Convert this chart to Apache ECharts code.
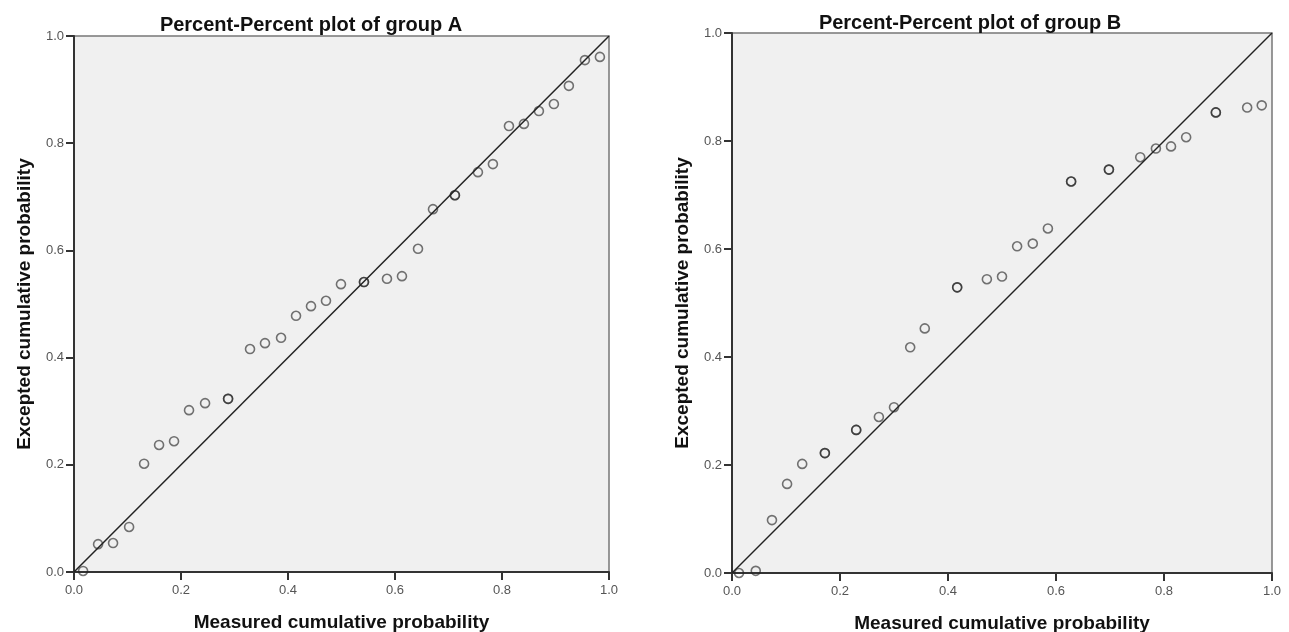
<!DOCTYPE html>
<html>
<head>
<meta charset="utf-8">
<script src="https://cdn.jsdelivr.net/npm/echarts@6/dist/echarts.min.js"></script>
<style>
html,body{margin:0;padding:0;background:#fff;}
#chart{width:1289px;height:632px;}
</style>
</head>
<body>
<div id="chart"></div>
<script>
// Group A: measured (x) vs expected (y) cumulative probability; tied points repeated
const measuredA = [0.017,0.045,0.073,0.103,0.131,0.159,0.187,0.215,0.245,0.288,0.288,0.329,0.357,0.387,0.415,0.443,0.471,0.499,0.542,0.542,0.585,0.613,0.643,0.671,0.712,0.712,0.755,0.783,0.813,0.841,0.869,0.897,0.925,0.955,0.983];
const expectedA = [0.002,0.052,0.054,0.084,0.202,0.237,0.244,0.302,0.315,0.323,0.323,0.416,0.427,0.437,0.478,0.496,0.506,0.537,0.541,0.541,0.547,0.552,0.603,0.677,0.703,0.703,0.746,0.761,0.832,0.836,0.860,0.873,0.907,0.955,0.961];
// Group B
const measuredB = [0.013,0.044,0.074,0.102,0.130,0.172,0.172,0.230,0.230,0.272,0.300,0.330,0.357,0.417,0.417,0.472,0.500,0.528,0.557,0.585,0.628,0.628,0.698,0.698,0.756,0.785,0.813,0.841,0.896,0.896,0.954,0.981];
const expectedB = [0.000,0.004,0.098,0.165,0.202,0.222,0.222,0.265,0.265,0.289,0.307,0.418,0.453,0.529,0.529,0.544,0.549,0.605,0.610,0.638,0.725,0.725,0.747,0.747,0.770,0.786,0.790,0.807,0.853,0.853,0.862,0.866];
const refLine = [[0,0],[1,1]];
const titles = ['Percent-Percent plot of group A','Percent-Percent plot of group B'];
const xName = 'Measured cumulative probability';
const yName = 'Excepted cumulative probability';

const FONT = '"Liberation Sans", Arial, sans-serif';
const zip = (a,b) => a.map((v,i)=>[v,b[i]]);

function axis(type, gi) {
  return {
    type:'value', gridIndex:gi, min:0, max:1, interval:0.2,
    name: type==='x' ? xName : yName,
    nameLocation:'middle',
    nameGap: type==='x' ? 41 : 40,
    nameTextStyle:{fontFamily:FONT,fontSize:19,fontWeight:'bold',color:'#111'},
    axisLine:{show:true,onZero:false,lineStyle:{color:'#333',width:2}},
    axisTick:{show:true,inside:false,length:8,lineStyle:{color:'#333',width:2}},
    axisLabel:{fontFamily:FONT,fontSize:13,color:'#555',margin:type==='x'?12:10,
      formatter:v=>v.toFixed(1)},
    splitLine:{show:false}
  };
}

const pointStyle = {color:'rgba(0,0,0,0)',borderColor:'rgba(35,35,35,0.78)',borderWidth:1.6};

const option = {
  backgroundColor:'#fff',
  animation:false,
  title:[
    {text:titles[0],left:306,top:10,textAlign:'center',textStyle:{fontFamily:FONT,fontSize:20,fontWeight:'bold',color:'#111'}},
    {text:titles[1],left:965,top:8,textAlign:'center',textStyle:{fontFamily:FONT,fontSize:20,fontWeight:'bold',color:'#111'}}
  ],
  grid:[
    {left:74,right:680,top:36,bottom:60,show:true,containLabel:false,outerBoundsMode:'none',backgroundColor:'#f0f0f0',borderColor:'#777',borderWidth:1.5},
    {left:732,right:17,top:33,bottom:59,show:true,containLabel:false,outerBoundsMode:'none',backgroundColor:'#f0f0f0',borderColor:'#777',borderWidth:1.5}
  ],
  xAxis:[axis('x',0),axis('x',1)],
  yAxis:[axis('y',0),axis('y',1)],
  series:[
    {type:'line',xAxisIndex:0,yAxisIndex:0,data:refLine,symbol:'none',lineStyle:{color:'#222',width:1.5},z:2},
    {type:'scatter',xAxisIndex:0,yAxisIndex:0,data:zip(measuredA,expectedA),symbol:'circle',symbolSize:9,itemStyle:pointStyle,z:3},
    {type:'line',xAxisIndex:1,yAxisIndex:1,data:refLine,symbol:'none',lineStyle:{color:'#222',width:1.5},z:2},
    {type:'scatter',xAxisIndex:1,yAxisIndex:1,data:zip(measuredB,expectedB),symbol:'circle',symbolSize:9,itemStyle:pointStyle,z:3}
  ]
};
const chart = echarts.init(document.getElementById('chart'));
chart.setOption(option);
</script>
</body>
</html>
